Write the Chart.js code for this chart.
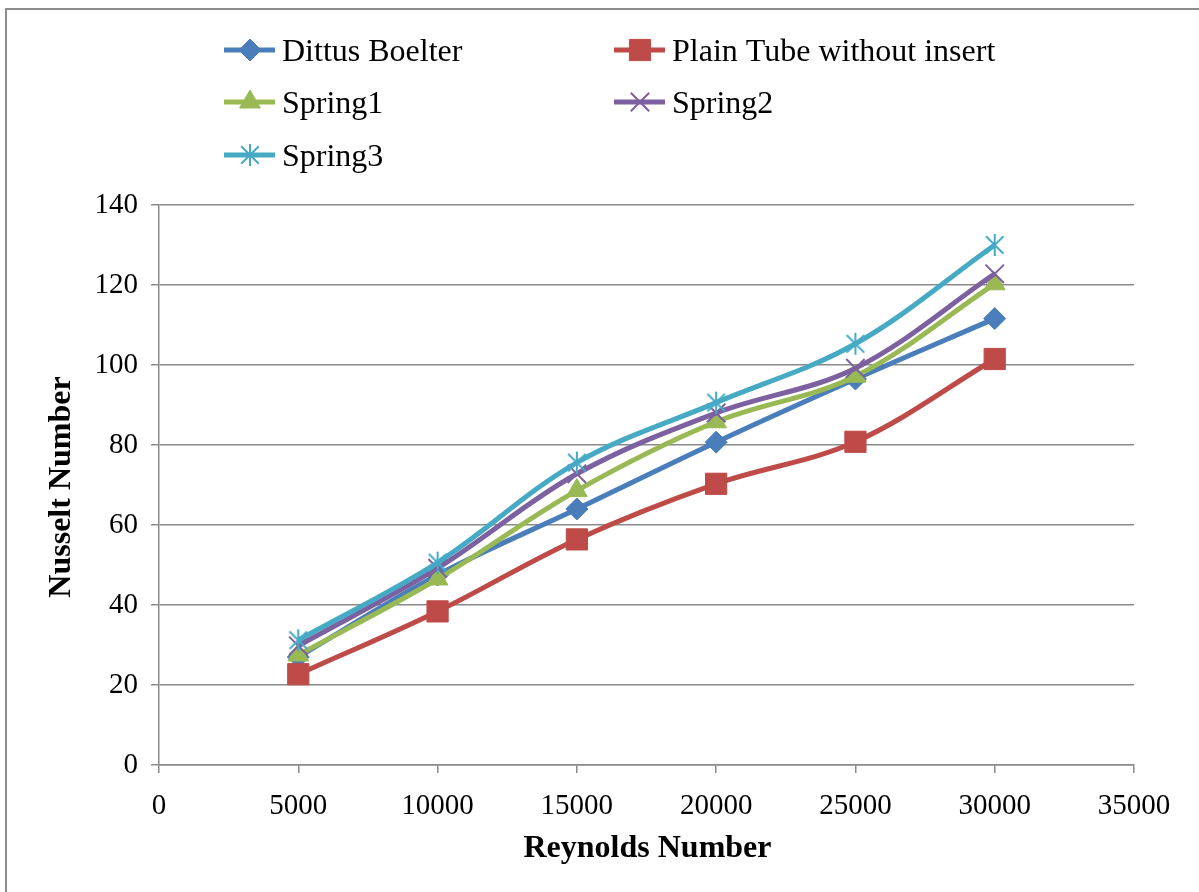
<!DOCTYPE html>
<html>
<head>
<meta charset="utf-8">
<title>Nusselt Number vs Reynolds Number</title>
<script src="https://cdn.jsdelivr.net/npm/chart.js@4.4.1/dist/chart.umd.min.js"></script>
<style>
  html, body { margin: 0; padding: 0; background: #ffffff; }
  canvas { display: block; }
</style>
</head>
<body>
<canvas id="chart" width="1199" height="892"></canvas>
<script>
// Reynolds numbers (x values)
const reynolds = [5000, 10000, 15000, 20000, 25000, 30000];

// Nusselt numbers per configuration
const dittusBoelter = [27.0, 47.5, 64.0, 80.7, 96.5, 111.6];
const plainTube     = [22.7, 38.4, 56.4, 70.3, 80.8, 101.5];
const spring1       = [27.5, 46.5, 68.6, 85.8, 97.2, 120.3];
const spring2       = [29.8, 49.2, 72.8, 88.0, 99.2, 122.8];
const spring3       = [31.2, 50.6, 75.6, 90.6, 105.3, 130.0];

// Axis ticks
const xTicks = [0, 5000, 10000, 15000, 20000, 25000, 30000, 35000];
const yTicks = [0, 20, 40, 60, 80, 100, 120, 140];

const seriesNames = ['Dittus Boelter', 'Plain Tube without insert', 'Spring1', 'Spring2', 'Spring3'];

const SERIF = '"Liberation Serif", "Times New Roman", serif';
const GRID = '#8a8a8a';

// Six-spoke asterisk marker
function makeAsterisk(color, size) {
  const c = document.createElement('canvas');
  c.width = size; c.height = size;
  const g = c.getContext('2d');
  const m = size / 2, r = size / 2 - 1;
  g.strokeStyle = color; g.lineWidth = 2;
  g.beginPath();
  g.moveTo(m, m - r); g.lineTo(m, m + r);
  const d = r * 0.8;
  g.moveTo(m - d, m - d); g.lineTo(m + d, m + d);
  g.moveTo(m - d, m + d); g.lineTo(m + d, m - d);
  g.stroke();
  return c;
}

const toPoints = ys => reynolds.map((x, i) => ({ x: x, y: ys[i] }));

function series(label, ys, color, style, radius, order, borderW) {
  return {
    label: label,
    data: toPoints(ys),
    borderColor: color,
    backgroundColor: color,
    borderWidth: 5,
    tension: 0.35,
    pointStyle: style,
    pointRadius: radius,
    pointHoverRadius: radius,
    pointBackgroundColor: color,
    pointBorderColor: color,
    pointBorderWidth: borderW,
    order: order
  };
}

const datasets = [
  series(seriesNames[0], dittusBoelter, '#4a7ebb', 'rectRot', 11, 5, 1),
  series(seriesNames[1], plainTube, '#be4b48', 'rect', 15, 4, 1),
  series(seriesNames[2], spring1, '#98b954', 'triangle', 12, 3, 1),
  series(seriesNames[3], spring2, '#7d60a0', 'crossRot', 13, 2, 2),
  series(seriesNames[4], spring3, '#46aac5', makeAsterisk('#46aac5', 24), 12, 1, 2)
];

// Outer frame of the chart
const framePlugin = {
  id: 'frame',
  beforeDraw(chart) {
    const ctx = chart.ctx;
    ctx.save();
    ctx.fillStyle = '#ffffff';
    ctx.fillRect(0, 0, chart.width, chart.height);
    ctx.strokeStyle = '#8c8c8c';
    ctx.lineWidth = 2;
    ctx.strokeRect(6, 9, chart.width + 20, chart.height + 20);
    ctx.restore();
  }
};

// Two-column legend with line + marker swatches
const legendPlugin = {
  id: 'gridLegend',
  afterDraw(chart) {
    const ctx = chart.ctx;
    const cols = [250, 640];
    const rows = [50, 102, 155];
    ctx.save();
    chart.data.datasets.forEach((ds, i) => {
      const cx = cols[i % 2];
      const cy = rows[Math.floor(i / 2)];
      ctx.strokeStyle = ds.borderColor;
      ctx.lineWidth = 5;
      ctx.beginPath();
      ctx.moveTo(cx - 26, cy);
      ctx.lineTo(cx + 25, cy);
      ctx.stroke();
      ctx.fillStyle = ds.pointBackgroundColor;
      ctx.strokeStyle = ds.pointBorderColor;
      ctx.lineWidth = ds.pointBorderWidth;
      Chart.helpers.drawPoint(ctx, { pointStyle: ds.pointStyle, radius: ds.pointRadius, rotation: 0, borderWidth: ds.pointBorderWidth }, cx, cy);
      ctx.fillStyle = '#000000';
      ctx.font = '32px ' + SERIF;
      ctx.textAlign = 'left';
      ctx.textBaseline = 'middle';
      ctx.fillText(ds.label, cx + 32, cy + 3);
    });
    ctx.restore();
  }
};

// Bold axis titles
const axisTitlePlugin = {
  id: 'axisTitles',
  afterDraw(chart) {
    const ctx = chart.ctx;
    const a = chart.chartArea;
    ctx.save();
    ctx.fillStyle = '#000000';
    ctx.font = 'bold 32px ' + SERIF;
    ctx.textAlign = 'center';
    ctx.textBaseline = 'middle';
    ctx.fillText('Reynolds Number', (a.left + a.right) / 2 + 1, 849);
    ctx.translate(62, (a.top + a.bottom) / 2 + 2);
    ctx.rotate(-Math.PI / 2);
    ctx.fillText('Nusselt Number', 0, 0);
    ctx.restore();
  }
};

new Chart(document.getElementById('chart'), {
  type: 'line',
  data: { datasets: datasets },
  plugins: [framePlugin, legendPlugin, axisTitlePlugin],
  options: {
    responsive: false,
    animation: false,
    events: [],
    layout: { padding: { left: 0, right: 65, top: 205, bottom: 0 } },
    plugins: {
      legend: { display: false },
      tooltip: { enabled: false },
      title: { display: false }
    },
    scales: {
      x: {
        type: 'linear',
        min: xTicks[0],
        max: xTicks[xTicks.length - 1],
        afterFit(scale) { scale.height = 127; },
        afterBuildTicks(scale) { scale.ticks = xTicks.map(v => ({ value: v })); },
        ticks: {
          color: '#000000',
          font: { family: SERIF, size: 29 },
          padding: 16,
          maxRotation: 0,
          autoSkip: false,
          callback: v => String(v)
        },
        grid: {
          drawOnChartArea: false,
          drawTicks: true,
          tickLength: 8,
          color: GRID,
          lineWidth: 1.5
        },
        border: { display: true, color: GRID, width: 1.5 }
      },
      y: {
        type: 'linear',
        min: yTicks[0],
        max: yTicks[yTicks.length - 1],
        afterFit(scale) { scale.width = 159; },
        afterBuildTicks(scale) { scale.ticks = yTicks.map(v => ({ value: v })); },
        ticks: {
          color: '#000000',
          font: { family: SERIF, size: 29 },
          padding: 13,
          autoSkip: false,
          callback: v => String(v)
        },
        grid: {
          drawOnChartArea: true,
          drawTicks: true,
          tickLength: 8,
          color: GRID,
          lineWidth: 1.5
        },
        border: { display: true, color: GRID, width: 1.5 }
      }
    }
  }
});
</script>
</body>
</html>
